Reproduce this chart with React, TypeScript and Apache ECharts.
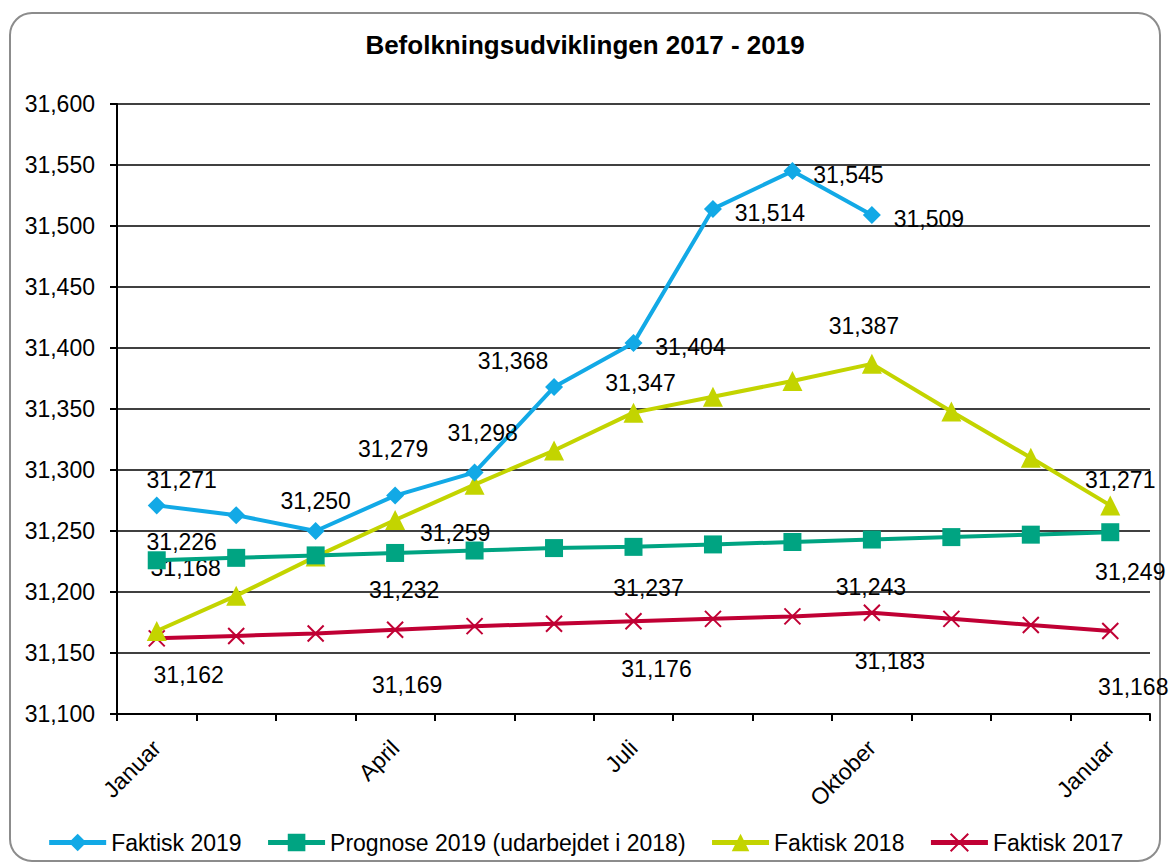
import React, { useEffect, useRef } from "react";
import * as echarts from "echarts";

const months = ["Januar", "Februar", "Marts", "April", "Maj", "Juni", "Juli", "August", "September", "Oktober", "November", "December", "Januar"];
const faktisk2019 = [31271, 31263, 31250, 31279, 31298, 31368, 31404, 31514, 31545, 31509, null, null, null];
const prognose2019 = [31226, 31228, 31230, 31232, 31234, 31236, 31237, 31239, 31241, 31243, 31245, 31247, 31249];
const faktisk2018 = [31168, 31197, 31229, 31259, 31288, 31316, 31347, 31360, 31373, 31387, 31348, 31310, 31271];
const faktisk2017 = [31162, 31164, 31166, 31169, 31172, 31174, 31176, 31178, 31180, 31183, 31178, 31173, 31168];

const seriesNames = ["Faktisk 2019", "Prognose 2019 (udarbejdet i 2018)", "Faktisk 2018", "Faktisk 2017"];
const colors = ["#12A9E6", "#00A482", "#C3D400", "#C00034"];

// label placement: [index, dx, dy] relative to the point
const labelPlacement: number[][][] = [
  [[0, 25, -25], [2, 0, -30], [3, -2, -47], [4, 8, -39], [5, -41, -26], [6, 57, 4], [7, 57, 4], [8, 56, 4], [9, 57, 4]],
  [[0, 25, -18], [3, 9, 37], [6, 15, 41], [9, -1, 47], [12, 20, 40]],
  [[0, 29, -63], [3, 60, 13], [6, 7, -30], [9, -8, -38], [12, 10, -25]],
  [[0, 32, 37], [3, 12, 55], [6, 23, 48], [9, 18, 48], [12, 23, 56]],
];

const fmt = (v: number) => {
  const s = String(Math.round(v));
  return s.replace(/\B(?=(\d{3})+(?!\d))/g, ",");
};

const FONT = "Liberation Sans, Arial, sans-serif";
const FS = 23;

function buildData(values: (number | null)[], placement: number[][]) {
  return values.map((v, i) => {
    const p = placement.find((q) => q[0] === i);
    if (v === null) return null;
    if (!p) return v;
    return {
      value: v,
      label: { show: true, position: "inside", offset: [p[1], p[2]] },
    };
  });
}

export default function App() {
  const ref = useRef<HTMLDivElement>(null);
  useEffect(() => {
    document.body.style.margin = "0";
    const chart = echarts.init(ref.current!, null, { renderer: "svg" });
    const symbols = ["diamond", "rect", "triangle", "path://M0,0L10,10M10,0L0,10"];
    const sizes = [18, 18, 20, 16];
    const allValues = [faktisk2019, prognose2019, faktisk2018, faktisk2017];
    chart.setOption({
      animation: false,
      title: {
        text: "Befolkningsudviklingen 2017 - 2019",
        left: "center",
        top: 27,
        textStyle: { fontFamily: FONT, fontSize: 26, fontWeight: "bold", color: "#000" },
      },
      graphic: [
        {
          type: "rect",
          shape: { x: 10, y: 13, width: 1150, height: 848, r: 22 },
          style: { fill: "none", stroke: "#8c8c8c", lineWidth: 2 },
          silent: true,
          z: -10,
        },
      ],
      legend: {
        bottom: 4,
        left: "center",
        itemWidth: 57,
        itemHeight: 22,
        itemGap: 24,
        lineStyle: { width: 5 },
        textStyle: { fontFamily: FONT, fontSize: FS, color: "#000" },
        data: seriesNames,
      },
      grid: { left: 117, right: 20, top: 104, bottom: 149, containLabel: false },
      xAxis: {
        type: "category",
        data: months,
        boundaryGap: true,
        axisLine: { lineStyle: { color: "#000", width: 2 } },
        axisTick: { show: true, interval: 0, length: 7, lineStyle: { color: "#000", width: 2 } },
        axisLabel: { interval: 2, rotate: 45, margin: 30, fontFamily: FONT, fontSize: FS, color: "#000" },
        splitLine: { show: false },
      },
      yAxis: {
        type: "value",
        min: 31100,
        max: 31600,
        interval: 50,
        axisLine: { show: true, lineStyle: { color: "#000", width: 2 } },
        axisTick: { show: true, length: 7, lineStyle: { color: "#000", width: 2 } },
        axisLabel: { formatter: (v: number) => fmt(v), margin: 22, fontFamily: FONT, fontSize: FS, color: "#000" },
        splitLine: { show: true, lineStyle: { color: "#000", width: 1.5 } },
      },
      series: allValues.map((vals, k) => ({
        name: seriesNames[k],
        type: "line",
        data: buildData(vals, labelPlacement[k]),
        symbol: symbols[k],
        symbolSize: sizes[k],
        showAllSymbol: true,
        connectNulls: false,
        lineStyle: { color: colors[k], width: 4 },
        itemStyle:
          k === 3
            ? { color: colors[k], borderColor: colors[k], borderWidth: 2 }
            : { color: colors[k], borderColor: colors[k], borderWidth: 0 },
        label: {
          show: false,
          formatter: (p: any) => fmt(p.value),
          fontFamily: FONT,
          fontSize: FS,
          color: "#000",
        },
        z: 10 - k,
      })),
    });
    return () => chart.dispose();
  }, []);
  return <div ref={ref} style={{ width: 1170, height: 863 }} />;
}
